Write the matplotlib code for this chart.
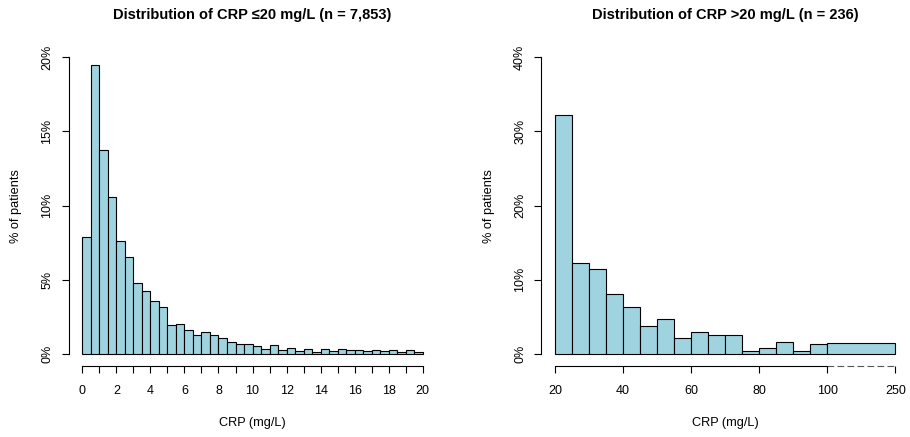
import matplotlib.pyplot as plt

plt.rcParams['font.family'] = ['Liberation Sans', 'DejaVu Sans']

# Left panel: CRP <= 20 mg/L, 0.5 mg/L bins, % of patients
low_edges = [i * 0.5 for i in range(41)]
low_pct = [7.87, 19.48, 13.78, 10.56, 7.64, 6.52, 4.76, 4.25, 3.55, 3.19,
           1.98, 2.04, 1.62, 1.28, 1.46, 1.26, 1.06, 0.79, 0.70, 0.70,
           0.54, 0.31, 0.58, 0.29, 0.38, 0.18, 0.31, 0.16, 0.34, 0.20,
           0.31, 0.29, 0.25, 0.18, 0.29, 0.18, 0.25, 0.11, 0.25, 0.16]

# Right panel: CRP > 20 mg/L, 5 mg/L bins up to 100, then one bin 100-250
high_edges = [20, 25, 30, 35, 40, 45, 50, 55, 60, 65, 70, 75, 80, 85, 90, 95, 100, 250]
high_pct = [32.27, 12.31, 11.42, 8.04, 6.34, 3.82, 4.67, 2.11, 2.97, 2.52,
            2.52, 0.36, 0.81, 1.66, 0.36, 1.30, 1.53]
high_ticks = [20, 40, 60, 80, 100, 250]

bar_color = '#9fd3e0'


def to_display(v):
    # 100-250 is squeezed into the space of 100-120
    if v <= 100:
        return v
    return 100 + (v - 100) * 20 / 150


def r_axes(ax):
    for s in ['top', 'right']:
        ax.spines[s].set_visible(False)
    ax.tick_params(direction='out', length=5, width=0.8, labelsize=9)
    ax.tick_params(axis='x', pad=9)
    ax.tick_params(axis='y', pad=6, labelrotation=90)
    for lab in ax.get_yticklabels():
        lab.set_va('center')


fig = plt.figure(figsize=(9.1, 4.37), dpi=100)

# ---- left panel
ax1 = fig.add_axes([0.0755, 0.1627, 0.404, 0.7335])
ax1.bar(low_edges[:-1], low_pct, width=0.5, align='edge', color=bar_color,
        edgecolor='black', linewidth=0.8)
ax1.set_xlim(-0.8, 20.8)
ax1.set_ylim(-0.8, 20.8)
ax1.set_xticks(range(0, 21))
ax1.set_xticklabels([str(i) if i % 2 == 0 else '' for i in range(0, 21)])
ax1.set_yticks([0, 5, 10, 15, 20])
ax1.set_yticklabels(['0%', '5%', '10%', '15%', '20%'])
ax1.spines['bottom'].set_bounds(0, 20)
ax1.spines['left'].set_bounds(0, 20)
r_axes(ax1)
ax1.set_xlabel('CRP (mg/L)', fontsize=9.2, labelpad=14)
ax1.set_ylabel('% of patients', fontsize=9.2, labelpad=14)
ax1.set_title('Distribution of CRP \u226420 mg/L (n = 7,853)', fontsize=10.5,
              fontweight='bold', pad=19)

# ---- right panel
ax2 = fig.add_axes([0.5949, 0.1627, 0.4039, 0.7335])
dx = [to_display(e) for e in high_edges]
ax2.bar(dx[:-1], high_pct, width=[dx[i + 1] - dx[i] for i in range(len(dx) - 1)],
        align='edge', color=bar_color, edgecolor='black', linewidth=0.8)
ax2.set_xlim(16, 124)
ax2.set_ylim(-1.6, 41.6)
ax2.set_xticks([to_display(t) for t in high_ticks])
ax2.set_xticklabels([str(t) for t in high_ticks])
ax2.set_yticks([0, 10, 20, 30, 40])
ax2.set_yticklabels(['0%', '10%', '20%', '30%', '40%'])
ax2.spines['bottom'].set_bounds(20, 100)
ax2.spines['left'].set_bounds(0, 40)
r_axes(ax2)
# dashed axis segment for the compressed 100-250 part
ax2.plot([100, 120], [0, 0], transform=ax2.get_xaxis_transform(), clip_on=False,
         color='#555555', linewidth=0.8, linestyle=(0, (6, 3)))
ax2.set_xlabel('CRP (mg/L)', fontsize=9.2, labelpad=14)
ax2.set_ylabel('% of patients', fontsize=9.2, labelpad=14)
ax2.set_title('Distribution of CRP >20 mg/L (n = 236)', fontsize=10.5,
              fontweight='bold', pad=19)

fig.savefig('out.png', dpi=100)
